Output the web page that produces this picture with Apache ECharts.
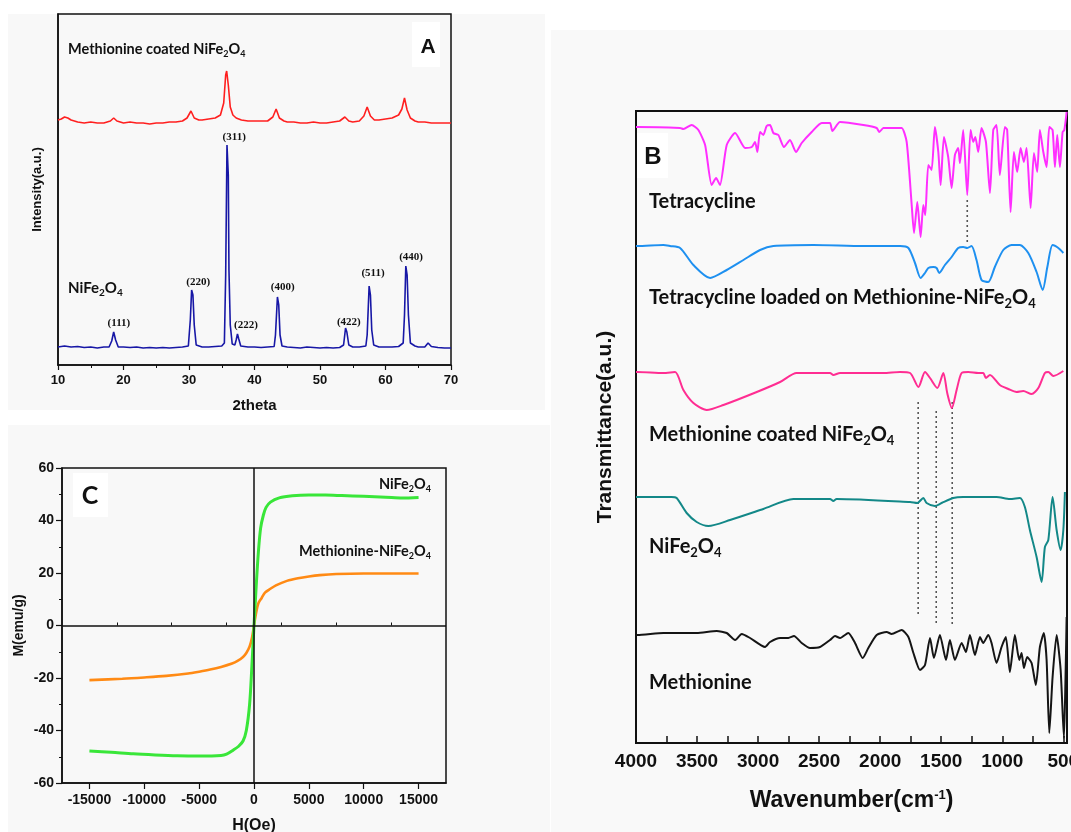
<!DOCTYPE html>
<html><head><meta charset="utf-8">
<script src="https://cdn.jsdelivr.net/npm/echarts@6/dist/echarts.min.js"></script>
<style>html,body{margin:0;padding:0;background:#fff}#c{width:1071px;height:832px}</style>
</head><body><div id="c"></div>
<script>
// ---------- Panel A : XRD (2theta, intensity a.u.) ----------
const xrdNiFe2O4 = [[10,18],[11,19],[12,18],[13,18.5],[14,17.5],[15,18],[16,17],[17,18],[17.8,18],[18.2,24],[18.5,33],[18.8,25],[19.2,18],[20,18],[21,17.5],[22,18],[23,17],[24,17.5],[25,17],[26,17.5],[27,17],[28,17.5],[29,18],[29.9,19],[30.2,45],[30.4,75],[30.6,70],[30.8,40],[31.1,20],[32,18],[33,18],[34,18.5],[35,19],[35.4,22],[35.6,90],[35.8,220],[36.0,190],[36.1,95],[36.3,40],[36.6,21],[37.0,20],[37.2,25],[37.4,31],[37.6,26],[37.9,19],[39,18],[40,18],[41,17.5],[42,18],[43,18.5],[43.2,30],[43.5,68],[43.7,60],[43.9,30],[44.2,19],[45,18],[46,17.5],[47,17],[48,18],[49,17.5],[50,17],[51,17.5],[52,17],[53,17.5],[53.6,20],[53.9,37],[54.1,33],[54.4,20],[55,18],[56,18],[57,19],[57.2,30],[57.5,79],[57.7,70],[57.9,35],[58.2,20],[59,18],[60,18],[61,18],[62,18.5],[62.7,22],[62.9,50],[63.1,99],[63.3,90],[63.5,50],[63.8,22],[64.5,19],[65,18],[66,18],[66.5,22],[67,18.5],[68,17.5],[69,17],[70,17]];
const xrdMethionineCoated = [[10,245],[10.5,246],[11,248],[11.5,247],[12,245],[13,243],[14,242],[15,243],[16,242],[17,242],[18,244],[18.5,247],[19,244],[20,242],[21,243],[22,242],[23,242],[24,241],[25,242],[26,242],[27,243],[28,243],[29,244],[29.7,247],[30.3,254],[30.8,247],[31.5,245],[32,245],[33,246],[34,247],[34.8,250],[35.3,262],[35.6,290],[35.75,294],[36,280],[36.3,258],[36.7,250],[37.2,247],[38,245],[39,244],[40,244],[41,244],[42,244],[42.8,248],[43.3,256],[43.8,247],[44.5,244],[45,243],[46,243],[47,242],[48,242],[49,243],[50,242],[51,242],[52,243],[53,244],[53.8,248],[54.4,244],[55,243],[56,244],[56.7,249],[57.2,258],[57.7,249],[58.3,245],[59,245],[60,246],[61,247],[62,250],[62.5,256],[62.9,267],[63.3,255],[63.8,247],[64.5,244],[65,243],[66,243],[67,242],[68,242],[69,242],[70,242]];
const hklLabels = ['(111)','(220)','(311)','(222)','(400)','(422)','(511)','(440)'];
const hklTheta  = [19.3,31.4,36.9,38.7,44.3,54.4,58.1,63.9];
const hklHeight = [42,83,228,40,78,43,92,108];

// ---------- Panel B : FTIR (wavenumber, offset transmittance a.u.) ----------
const ftirTetracycline = [[4000,616],[3989,616],[3639,615],[3612,614],[3544,618],[3489,613],[3434,598],[3380,558],[3344,565],[3312,558],[3257,598],[3188,610],[3106,595],[3052,596],[3025,601],[3006,591],[2984,611],[2957,608],[2930,617],[2902,618],[2875,610],[2834,608],[2788,596],[2739,603],[2690,591],[2643,600],[2561,611],[2479,620],[2411,620],[2392,612],[2329,621],[2138,618],[2029,615],[2007,611],[1974,615],[1892,615],[1824,615],[1783,601],[1742,538],[1723,510],[1696,541],[1669,506],[1647,538],[1631,528],[1606,578],[1579,573],[1552,616],[1524,591],[1505,558],[1478,606],[1443,586],[1415,555],[1388,588],[1361,595],[1347,580],[1320,613],[1287,548],[1260,613],[1238,601],[1221,606],[1197,591],[1170,615],[1134,601],[1101,550],[1074,613],[1047,618],[1020,568],[979,616],[960,613],[932,531],[905,591],[878,571],[850,595],[823,581],[801,595],[768,535],[741,590],[714,571],[692,613],[664,591],[637,576],[615,616],[588,613],[569,576],[550,608],[528,576],[506,611],[492,613],[473,631]];
const ftirTcLoaded = [[4000,497],[3989,497],[3776,498],[3721,497],[3639,495],[3530,478],[3393,465],[3257,473],[3120,483],[2984,493],[2875,497],[2547,498],[2138,497],[1837,497],[1769,495],[1715,480],[1669,465],[1633,470],[1606,475],[1565,476],[1538,475],[1516,470],[1470,478],[1415,486],[1361,495],[1320,496],[1287,495],[1252,497],[1211,483],[1170,463],[1115,461],[1061,476],[992,493],[924,498],[856,498],[787,490],[719,471],[669,453],[631,476],[588,498],[541,495],[500,490]];
const ftirMethionineCoated = [[4000,371],[3989,371],[3776,370],[3680,371],[3612,353],[3530,340],[3421,333],[3284,338],[3011,351],[2820,361],[2684,370],[2411,370],[2384,368],[2329,370],[1974,370],[1837,371],[1755,370],[1687,356],[1633,371],[1592,365],[1532,355],[1483,370],[1451,350],[1413,335],[1374,353],[1333,370],[1279,371],[1197,370],[1156,370],[1134,365],[1101,368],[1020,358],[951,354],[883,351],[828,352],[760,349],[705,355],[651,370],[623,371],[582,367],[500,372]];
const ftirNiFe2O4 = [[4000,246],[3989,246],[3710,246],[3667,245],[3585,230],[3503,221],[3407,217],[3230,223],[2957,234],[2711,244],[2411,244],[2384,242],[2357,244],[1755,241],[1696,240],[1647,245],[1620,240],[1552,237],[1497,240],[1402,245],[1320,246],[1047,246],[938,244],[856,245],[815,236],[774,213],[719,186],[678,161],[651,196],[623,203],[588,246],[555,213],[522,193],[500,213],[487,251]];
const ftirMethionine = [[4000,108],[3989,108],[3776,110],[3503,110],[3339,112],[3257,110],[3188,103],[3134,109],[3066,105],[2943,96],[2902,101],[2820,105],[2752,105],[2706,107],[2643,100],[2575,95],[2493,96],[2411,103],[2370,107],[2329,105],[2261,110],[2206,100],[2143,85],[2097,95],[2029,108],[1947,111],[1906,109],[1824,113],[1769,106],[1728,90],[1674,73],[1633,78],[1592,105],[1560,85],[1511,108],[1461,83],[1429,103],[1388,83],[1333,100],[1298,91],[1265,108],[1224,88],[1183,106],[1156,100],[1115,108],[1088,100],[1047,80],[1006,96],[971,106],[938,71],[897,108],[861,83],[842,90],[823,75],[796,86],[760,80],[725,58],[692,96],[660,110],[637,83],[615,10],[588,66],[555,108],[522,73],[495,5],[483,60],[473,126]];
const dotWn     = [1287,1689,1541,1410];
const dotTop    = [543,341,332,341];
const dotBottom = [498,126,118,118];
const ftirLabels = [4000,3500,3000,2500,2000,1500,1000,500];
const ftirTickMarks = [4000,3750,3500,3250,3000,2750,2500,2250,2000,1750,1500,1250,1000,750,500];

// ---------- Panel C : VSM (H Oe, M emu/g) ----------
const vsmNiFe2O4 = [[-15000,-47.8],[-13000,-48.3],[-11000,-48.9],[-9000,-49.3],[-7000,-49.6],[-5000,-49.7],[-3000,-49.5],[-2500,-49],[-1900,-47.5],[-1400,-46],[-1000,-44],[-700,-40],[-400,-30],[-200,-16],[0,0],[200,15],[400,28],[600,37],[850,42],[1100,45],[1500,47],[2300,48.6],[3500,49.4],[5000,49.7],[6500,49.7],[8000,49.5],[10000,49.2],[12000,48.9],[13500,48.6],[15000,48.8]];
const vsmMethionineNiFe2O4 = [[-15000,-20.8],[-12000,-20.3],[-10000,-19.8],[-8000,-19.2],[-6000,-18.3],[-5000,-17.6],[-4000,-16.8],[-3000,-15.8],[-2000,-14.5],[-1500,-13.5],[-1000,-12],[-700,-10.5],[-400,-8],[-200,-5],[0,0],[200,5],[400,8.5],[700,10.5],[1000,12.5],[1500,14],[2000,15.3],[3000,17],[4000,18],[5000,18.7],[6000,19.2],[7500,19.6],[10000,19.8],[12500,19.8],[15000,19.8]];
const vsmLabels = [-15000,-10000,-5000,0,5000,10000,15000];
const vsmMinorTicks = [-12500,-7500,-2500,2500,7500,12500];

const chart = echarts.init(document.getElementById('c'));
const AR = 'Liberation Sans';
const LT = 'Lato';
const plain = v => String(v);
const lbl = (size, extra) => Object.assign({fontFamily: AR, fontWeight: 'bold', fontSize: size, color: '#111'}, extra || {});

function line(data, color, width, xi, yi, smooth) {
  return {type: 'line', data: data, xAxisIndex: xi, yAxisIndex: yi, showSymbol: false, symbol: 'none',
    smooth: smooth || false, lineStyle: {color: color, width: width}, silent: true, z: 3};
}

const option = {
  animation: false,
  backgroundColor: '#ffffff',
  grid: [
    {left: 58, top: 14, width: 393, height: 351, show: true, borderColor: '#111', borderWidth: 1.5, outerBoundsMode: 'none', containLabel: false},
    {left: 636, top: 111, width: 431, height: 632, show: true, borderColor: '#111', borderWidth: 2, outerBoundsMode: 'none', containLabel: false},
    {left: 62, top: 468, width: 384, height: 315, show: true, borderColor: '#111', borderWidth: 1.5, outerBoundsMode: 'none', containLabel: false}
  ],
  xAxis: [
    {gridIndex: 0, type: 'value', min: 10, max: 70, interval: 10,
      axisLine: {onZero: false, lineStyle: {color: '#111', width: 1.5}},
      axisTick: {length: 5, lineStyle: {color: '#111', width: 1.2}},
      minorTick: {show: true, splitNumber: 2, length: 3, lineStyle: {color: '#111', width: 1}},
      splitLine: {show: false},
      axisLabel: lbl(13, {margin: 9, formatter: plain}),
      name: '2theta', nameLocation: 'middle', nameGap: 33, nameTextStyle: lbl(15)},
    {gridIndex: 1, type: 'value', inverse: true, min: 470, max: 4000,
      axisLine: {onZero: false, lineStyle: {color: '#111', width: 2}},
      axisTick: {inside: true, length: 7, customValues: ftirTickMarks, lineStyle: {color: '#111', width: 1.5}},
      splitLine: {show: false},
      axisLabel: lbl(19, {margin: 9, customValues: ftirLabels, formatter: plain}),
      name: 'Wavenumber(cm{sup|-1})', nameLocation: 'middle', nameGap: 46,
      nameTextStyle: lbl(23, {rich: {sup: {fontFamily: AR, fontWeight: 'bold', fontSize: 13, color: '#111', verticalAlign: 'top', lineHeight: 14}}})},
    {gridIndex: 2, type: 'value', min: -17500, max: 17500,
      axisLine: {onZero: false, lineStyle: {color: '#111', width: 1.5}},
      axisTick: {length: 6, customValues: vsmLabels, lineStyle: {color: '#111', width: 1.2}},
      splitLine: {show: false},
      axisLabel: lbl(14, {margin: 10, customValues: vsmLabels, formatter: plain}),
      name: 'H(Oe)', nameLocation: 'middle', nameGap: 35, nameTextStyle: lbl(16)},
    {gridIndex: 2, type: 'value', min: -17500, max: 17500,
      axisLine: {show: false},
      axisTick: {length: 3, customValues: vsmMinorTicks, lineStyle: {color: '#111', width: 1}},
      splitLine: {show: false}, axisLabel: {show: false}}
  ],
  yAxis: [
    {gridIndex: 0, type: 'value', min: 0, max: 351,
      axisLine: {onZero: false, lineStyle: {color: '#111', width: 1.5}},
      axisTick: {show: false}, axisLabel: {show: false}, splitLine: {show: false},
      name: 'Intensity(a.u.)', nameLocation: 'middle', nameGap: 14, nameTextStyle: lbl(13)},
    {gridIndex: 1, type: 'value', min: 0, max: 632,
      axisLine: {onZero: false, lineStyle: {color: '#111', width: 2}},
      axisTick: {show: false}, axisLabel: {show: false}, splitLine: {show: false},
      name: 'Transmittance(a.u.)', nameLocation: 'middle', nameGap: 20, nameTextStyle: lbl(21)},
    {gridIndex: 2, type: 'value', min: -60, max: 60, interval: 20,
      axisLine: {onZero: false, lineStyle: {color: '#111', width: 1.5}},
      axisTick: {length: 6, lineStyle: {color: '#111', width: 1.2}},
      minorTick: {show: true, splitNumber: 2, length: 3, lineStyle: {color: '#111', width: 1}},
      splitLine: {show: false},
      axisLabel: lbl(14, {margin: 8, formatter: plain}),
      name: 'M(emu/g)', nameLocation: 'middle', nameGap: 36, nameTextStyle: lbl(14)}
  ],
  series: [
    line(xrdMethionineCoated, '#ff1f1f', 1.6, 0, 0),
    line(xrdNiFe2O4, '#1717a6', 1.6, 0, 0),
    line(ftirTetracycline, '#ff2eff', 2, 1, 1, 0.2),
    line(ftirTcLoaded, '#1e90f0', 2, 1, 1, 0.25),
    line(ftirMethionineCoated, '#ff2d92', 2, 1, 1, 0.25),
    line(ftirNiFe2O4, '#138888', 2, 1, 1, 0.25),
    line(ftirMethionine, '#151515', 2, 1, 1, 0.2),
    Object.assign(line(vsmMethionineNiFe2O4, '#ff8a14', 2.6, 2, 2, 0.3), {z: 4}),
    Object.assign(line(vsmNiFe2O4, '#39e639', 3, 2, 2, 0.3), {z: 4,
      markLine: {silent: true, symbol: 'none', label: {show: false},
        lineStyle: {color: '#111', width: 1.5, type: 'solid'},
        data: [{xAxis: 0}, {yAxis: 0}]}})
  ]
};
dotWn.forEach((w, i) => {
  option.series.push({type: 'line', xAxisIndex: 1, yAxisIndex: 1, showSymbol: false, symbol: 'none', silent: true, z: 2,
    data: [[w, dotTop[i]], [w, dotBottom[i]]], lineStyle: {color: '#555', width: 1.6, type: [2, 3]}});
});
chart.setOption(option);

// ---------- annotations ----------
const subRich = (size) => ({
  m: {fontFamily: LT, fontWeight: 'bold', fontSize: size, fill: '#111', lineHeight: size + 2, verticalAlign: 'top'},
  s: {fontFamily: LT, fontWeight: 'bold', fontSize: Math.round(size * 0.65), fill: '#111', lineHeight: Math.round(size * 0.6), verticalAlign: 'bottom'}
});
function txt(x, y, text, size, align, fam) {
  return {type: 'text', x: x, y: y, z: 20, silent: true,
    style: {text: text, rich: subRich(size), fontFamily: fam || LT, fontWeight: 'bold', fontSize: size, fill: '#111',
      align: align || 'left', textAlign: align || 'left', verticalAlign: 'middle', textVerticalAlign: 'middle'}};
}
const g = [
  {type: 'rect', shape: {x: 8, y: 14, width: 537, height: 396}, style: {fill: '#f8f8f8'}, z: -10, silent: true},
  {type: 'rect', shape: {x: 8, y: 425, width: 542, height: 407}, style: {fill: '#f8f8f8'}, z: -10, silent: true},
  {type: 'rect', shape: {x: 551, y: 30, width: 520, height: 802}, style: {fill: '#f9f9f9'}, z: -10, silent: true},
  {type: 'rect', shape: {x: 412, y: 22, width: 28, height: 45}, style: {fill: '#ffffff'}, z: 15, silent: true},
  {type: 'rect', shape: {x: 637, y: 133, width: 31, height: 45}, style: {fill: '#ffffff'}, z: 15, silent: true},
  {type: 'rect', shape: {x: 73, y: 473, width: 35, height: 44}, style: {fill: '#ffffff'}, z: 15, silent: true},
  txt(428, 47, 'A', 21, 'center', AR),
  txt(653, 157, 'B', 24, 'center', AR),
  txt(90, 496, 'C', 25, 'center', LT),
  txt(68, 50, '{m|Methionine coated NiFe}{s|2}{m|O}{s|4}', 14.5),
  txt(68, 289, '{m|NiFe}{s|2}{m|O}{s|4}', 15),
  txt(649, 203, '{m|Tetracycline}', 20),
  txt(649, 299, '{m|Tetracycline loaded on Methionine-NiFe}{s|2}{m|O}{s|4}', 20),
  txt(649, 436, '{m|Methionine coated NiFe}{s|2}{m|O}{s|4}', 20),
  txt(649, 548, '{m|NiFe}{s|2}{m|O}{s|4}', 20),
  txt(649, 684, '{m|Methionine}', 20),
  txt(431, 485, '{m|NiFe}{s|2}{m|O}{s|4}', 14.5, 'right'),
  txt(431, 552, '{m|Methionine-NiFe}{s|2}{m|O}{s|4}', 14.5, 'right')
];
hklLabels.forEach((t, i) => {
  const p = chart.convertToPixel({xAxisIndex: 0, yAxisIndex: 0}, [hklTheta[i], hklHeight[i]]);
  g.push({type: 'text', x: p[0], y: p[1], z: 20, silent: true,
    style: {text: t, fontFamily: 'Liberation Serif', fontWeight: 'bold', fontSize: 11, fill: '#111',
      align: 'center', textAlign: 'center', verticalAlign: 'middle', textVerticalAlign: 'middle'}});
});
chart.setOption({graphic: g});
</script>
</body></html>
